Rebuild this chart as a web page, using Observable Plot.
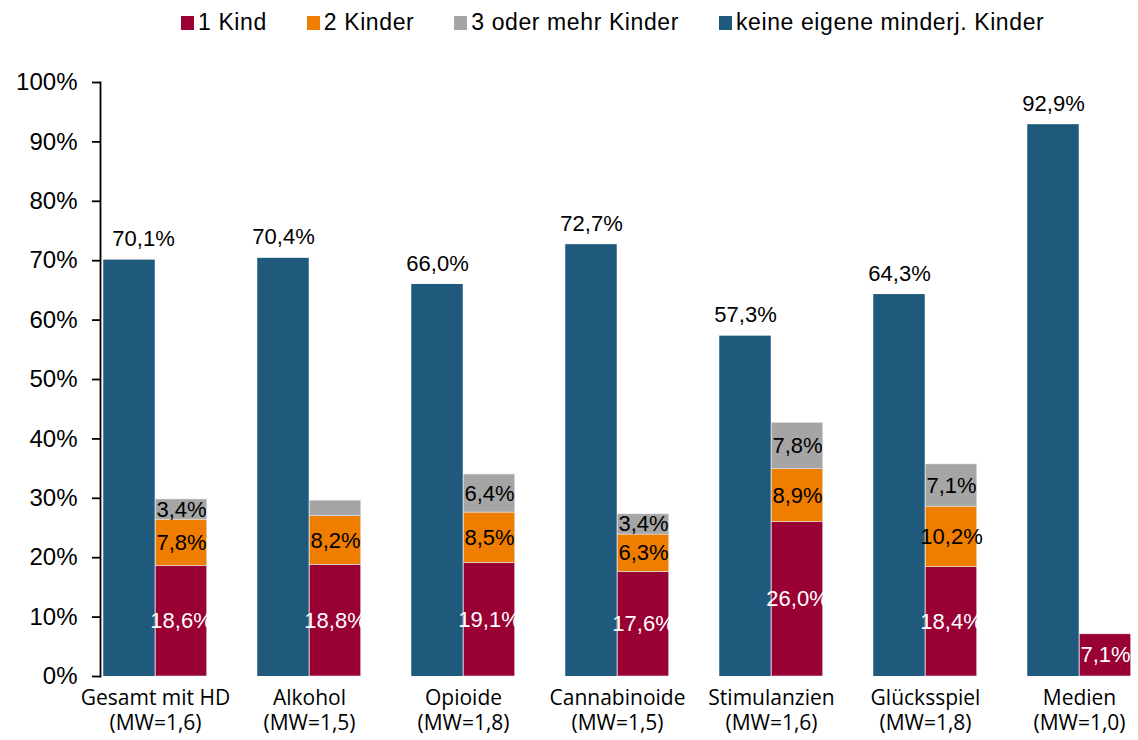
<!DOCTYPE html>
<html>
<head>
<meta charset="utf-8">
<script src="https://cdn.jsdelivr.net/npm/d3@7"></script>
<script src="https://cdn.jsdelivr.net/npm/@observablehq/plot@0.6"></script>
<style>
  html, body { margin: 0; padding: 0; background: #fff; }
  #legend { height: 44px; position: relative; font-family: "Liberation Sans", Arial, sans-serif; font-size: 23px; letter-spacing: 0.6px; color: #000; }
  #legend .items { position: absolute; left: 181px; top: 9px; display: flex; gap: 40px; align-items: center; }
  #legend .item { display: flex; align-items: center; gap: 4px; white-space: nowrap; }
  #legend .sw { width: 13px; height: 14px; display: inline-block; }
  #chart svg { display: block; }
</style>
</head>
<body>
<div id="legend"></div>
<div id="chart"></div>
<script>
const categories = ["Gesamt mit HD", "Alkohol", "Opioide", "Cannabinoide", "Stimulanzien", "Glücksspiel", "Medien"];
const mwLabels = ["(MW=1,6)", "(MW=1,5)", "(MW=1,8)", "(MW=1,5)", "(MW=1,6)", "(MW=1,8)", "(MW=1,0)"];
const keineKinder = [70.1, 70.4, 66.0, 72.7, 57.3, 64.3, 92.9];
const einKind = [18.6, 18.8, 19.1, 17.6, 26.0, 18.4, 7.1];
const zweiKinder = [7.8, 8.2, 8.5, 6.3, 8.9, 10.2, 0];
const dreiPlus = [3.4, 2.6, 6.4, 3.4, 7.8, 7.1, 0];
const seriesNames = ["1 Kind", "2 Kinder", "3 oder mehr Kinder", "keine eigene minderj. Kinder"];
const seriesColors = ["#990033", "#EE7D00", "#A5A5A5", "#1F5A7D"];
const yTicks = [0, 10, 20, 30, 40, 50, 60, 70, 80, 90, 100];

const fmt = v => v.toFixed(1).replace(".", ",") + "%";

// legend
const leg = document.getElementById("legend");
const items = document.createElement("div");
items.className = "items";
seriesNames.forEach((n, i) => {
  const it = document.createElement("div");
  it.className = "item";
  it.innerHTML = `<span class="sw" style="background:${seriesColors[i]}"></span><span>${n}</span>`;
  items.appendChild(it);
});
leg.appendChild(items);

const blueData = categories.map((c, i) => ({cat: c, idx: i, value: keineKinder[i]}));
const stackData = [];
categories.forEach((c, i) => {
  stackData.push({cat: c, series: seriesNames[0], value: einKind[i]});
  stackData.push({cat: c, series: seriesNames[1], value: zweiKinder[i]});
  stackData.push({cat: c, series: seriesNames[2], value: dreiPlus[i]});
});

const labelMap = new Map(categories.map((c, i) => [c, c + "\n" + mwLabels[i]]));

const plot = Plot.plot({
  width: 1138,
  height: 696,
  marginTop: 38,
  marginBottom: 64,
  marginLeft: 100,
  marginRight: 0,
  style: {fontFamily: "'Liberation Sans', Arial, sans-serif", background: "#fff"},
  x: {type: "band", domain: categories, range: [75.75, 1157.25], padding: 0},
  y: {domain: [0, 100]},
  color: {domain: seriesNames, range: seriesColors},
  marks: [
    Plot.barY(blueData, {x: "cat", y: "value", fill: seriesColors[3], insetLeft: 25.25, insetRight: 77.25}),
    Plot.barY(stackData, Plot.stackY({order: seriesNames, x: "cat", y: "value", z: "series", fill: "series", insetLeft: 77.25, insetRight: 25.25, stroke: "#dfe6ee", strokeWidth: 0.6})),
    Plot.text(blueData.filter(d => d.idx === 0), {x: "cat", y: "value", text: d => fmt(d.value), dx: -12, dy: -21, fontSize: 22, letterSpacing: 0.5, fill: "#000"}),
    Plot.text(blueData.filter(d => d.idx !== 0), {x: "cat", y: "value", text: d => fmt(d.value), dx: -26, dy: -21, fontSize: 22, letterSpacing: 0.5, fill: "#000"}),
    Plot.text(stackData, Plot.stackY({order: seriesNames, x: "cat", y: "value", z: "series",
      text: d => d.value >= 3 ? fmt(d.value) : "",
      fill: d => d.series === seriesNames[0] ? "#fff" : "#000",
      dx: 26, fontSize: 22, letterSpacing: 0.5})),
    Plot.frame({anchor: "left", stroke: "#000", strokeWidth: 1.8}),
    Plot.axisY({ticks: yTicks, tickFormat: d => d + "%", tickSize: 8, tickPadding: 15, fontSize: 24, letterSpacing: 1, stroke: "#000", strokeWidth: 1.8, strokeOpacity: 1, label: null, color: "#000"}),
    Plot.axisX({tickSize: 0, tickPadding: 10, tickFormat: d => labelMap.get(d), fontSize: 21, letterSpacing: 0.5, lineHeight: 1.22, fontFamily: "'Open Sans', sans-serif", label: null, color: "#000"})
  ]
});
document.getElementById("chart").appendChild(plot);
</script>
</body>
</html>
